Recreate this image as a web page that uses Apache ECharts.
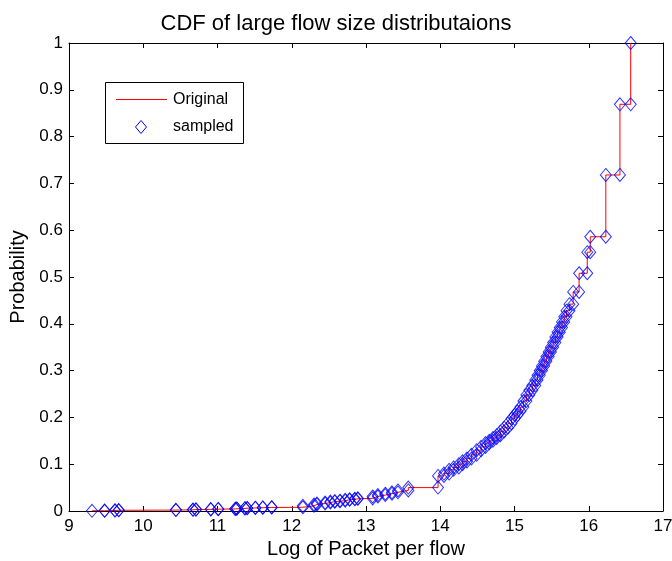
<!DOCTYPE html>
<html>
<head>
<meta charset="utf-8">
<script src="https://cdn.jsdelivr.net/npm/echarts@6/dist/echarts.min.js"></script>
<style>html,body{margin:0;padding:0;background:#fff}#c{width:672px;height:561px}</style>
</head>
<body>
<div id="c"></div>
<script>
// Sorted log(packets per flow) values and their cumulative probabilities
const logSizes = [
  9.31, 9.48, 9.62, 9.67, 10.44, 10.67, 10.71, 10.91, 11.01, 11.24, 11.26, 11.37, 11.40, 11.51, 11.61, 11.73,
  12.15, 12.30, 12.34, 12.45, 12.52, 12.58, 12.65, 12.72, 12.78, 12.85, 12.89,
  13.09, 13.16, 13.26, 13.35, 13.43, 13.57, 13.97,
  14.05, 14.12, 14.18, 14.25, 14.30, 14.36, 14.42, 14.49, 14.55, 14.61, 14.66, 14.71, 14.76, 14.81, 14.86, 14.91, 14.96,
  15.00, 15.04, 15.08, 15.12, 15.16, 15.20, 15.24, 15.28, 15.31, 15.34, 15.37, 15.40, 15.43, 15.46, 15.49, 15.52,
  15.55, 15.58, 15.61, 15.64, 15.67, 15.70, 15.74, 15.79, 15.87, 15.98, 16.02, 16.23, 16.42, 16.565
];
const cdfValues = [
  0.0005, 0.001, 0.0015, 0.002, 0.0025, 0.003, 0.0035, 0.004, 0.0045, 0.005, 0.0055, 0.006, 0.0065, 0.007, 0.0075, 0.008,
  0.011, 0.014, 0.016, 0.018, 0.020, 0.021, 0.022, 0.024, 0.025, 0.026, 0.027,
  0.031, 0.034, 0.037, 0.040, 0.044, 0.050, 0.075,
  0.080, 0.088, 0.093, 0.100, 0.106, 0.112, 0.120, 0.130, 0.137, 0.145, 0.150, 0.156, 0.162, 0.170, 0.178, 0.187, 0.197,
  0.205, 0.213, 0.222, 0.235, 0.248, 0.258, 0.268, 0.280, 0.290, 0.300, 0.310, 0.320, 0.330, 0.340, 0.350, 0.360,
  0.372, 0.382, 0.392, 0.404, 0.415, 0.428, 0.442, 0.468, 0.508, 0.553, 0.586, 0.718, 0.869, 1.000
];
const xTicks = [9, 10, 11, 12, 13, 14, 15, 16, 17];
const yTicks = [0, 0.1, 0.2, 0.3, 0.4, 0.5, 0.6, 0.7, 0.8, 0.9, 1];
const legendNames = ['Original', 'sampled'];

const originalData = logSizes.map((x, i) => [x, cdfValues[i]]);
const sampledData = [];
for (let i = 0; i < logSizes.length; i++) {
  sampledData.push([logSizes[i], cdfValues[i]]);
  if (i + 1 < logSizes.length) sampledData.push([logSizes[i + 1], cdfValues[i]]);
}

const FONT = 'Liberation Sans, Arial, Helvetica, sans-serif';
const chart = echarts.init(document.getElementById('c'), null, {renderer: 'canvas'});
const axisCommon = {
  axisLine: {show: true, onZero: false, lineStyle: {color: '#000', width: 1}},
  axisTick: {show: true, inside: true, length: 5, lineStyle: {color: '#000'}},
  splitLine: {show: false}
};
chart.setOption({
  animation: false,
  backgroundColor: '#fff',
  title: {
    text: 'CDF of large flow size distributaions',
    left: 'center', top: 8,
    textStyle: {fontFamily: FONT, fontSize: 22, fontWeight: 'normal', color: '#000'}
  },
  grid: {left: 69, right: 9, top: 43, bottom: 50, containLabel: false, outerBoundsMode: 'none'},
  graphic: [
    {type: 'rect', left: 105, top: 82, z: 100,
     shape: {width: 138, height: 61},
     style: {fill: '#fff', stroke: '#000', lineWidth: 1}},
    {type: 'line', z: 101, shape: {x1: 116, y1: 99.5, x2: 167, y2: 99.5},
     style: {stroke: '#ff0000', lineWidth: 1}},
    {type: 'text', z: 101,
     style: {text: legendNames[0], x: 173, y: 100, verticalAlign: 'middle', font: '16px ' + FONT, fill: '#000'}},
    {type: 'polygon', z: 101,
     shape: {points: [[141, 120.5], [146.5, 127], [141, 133.5], [135.5, 127]]},
     style: {fill: 'none', stroke: '#0000ff', lineWidth: 1}},
    {type: 'text', z: 101,
     style: {text: legendNames[1], x: 173, y: 127, verticalAlign: 'middle', font: '16px ' + FONT, fill: '#000'}}
  ],
  xAxis: [
    Object.assign({
      type: 'value', min: xTicks[0], max: xTicks[xTicks.length - 1], interval: 1, position: 'bottom',
      name: 'Log of Packet per flow', nameLocation: 'middle', nameGap: 27,
      nameTextStyle: {fontFamily: FONT, fontSize: 20, color: '#000'},
      axisLabel: {fontFamily: FONT, fontSize: 17, color: '#000', margin: 7}
    }, axisCommon),
    Object.assign({
      type: 'value', min: xTicks[0], max: xTicks[xTicks.length - 1], interval: 1, position: 'top',
      axisLabel: {show: false}
    }, axisCommon)
  ],
  yAxis: [
    Object.assign({
      type: 'value', min: yTicks[0], max: yTicks[yTicks.length - 1], interval: 0.1, position: 'left',
      name: 'Probability', nameLocation: 'middle', nameGap: 37,
      nameTextStyle: {fontFamily: FONT, fontSize: 20, color: '#000'},
      axisLabel: {fontFamily: FONT, fontSize: 17, color: '#000', margin: 6}
    }, axisCommon),
    Object.assign({
      type: 'value', min: yTicks[0], max: yTicks[yTicks.length - 1], interval: 0.1, position: 'right',
      axisLabel: {show: false}
    }, axisCommon)
  ],
  series: [
    {
      name: 'Original', type: 'line', step: 'end', symbol: 'none',
      data: originalData,
      lineStyle: {color: '#ff0000', width: 1},
      itemStyle: {color: '#ff0000'},
      z: 2
    },
    {
      name: 'sampled', type: 'scatter', symbol: 'diamond', symbolSize: [11, 13],
      data: sampledData,
      itemStyle: {color: 'rgba(0,0,0,0)', borderColor: '#0000ff', borderWidth: 1},
      z: 3
    }
  ]
});
</script>
</body>
</html>
